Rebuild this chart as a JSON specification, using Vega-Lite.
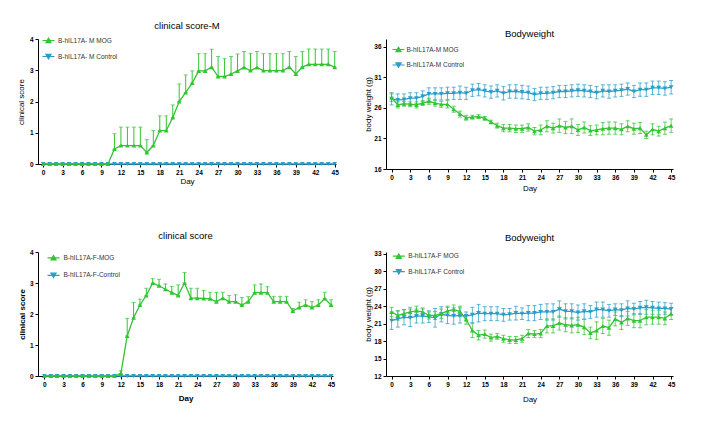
{
  "$schema": "https://vega.github.io/schema/vega-lite/v6.json",
  "padding": {"left": 17, "top": 20, "right": 5, "bottom": 5},
  "config": {
    "font": "Liberation Sans",
    "view": {"stroke": null},
    "title": {"fontSize": 9.5, "fontWeight": "normal", "color": "#000", "anchor": "middle"},
    "axis": {
      "grid": false, "domainColor": "#000", "domainWidth": 1, "tickColor": "#000", "tickSize": 3,
      "labelFontSize": 6.5, "labelFontWeight": "bold", "labelColor": "#000", "labelPadding": 2,
      "titleFontSize": 8, "titleFontWeight": "normal", "titleColor": "#000"
    },
    "legend": {"orient": "none", "padding": 0, "labelFontSize": 6.5, "labelColor": "#333", "symbolSize": 25, "symbolStrokeWidth": 1.2}
  },
  "datasets": {
    "cm": [
      {"d":0,"g":"B-hIL17A- M Control","m":0},{"d":1,"g":"B-hIL17A- M Control","m":0},{"d":2,"g":"B-hIL17A- M Control","m":0},{"d":3,"g":"B-hIL17A- M Control","m":0},
      {"d":4,"g":"B-hIL17A- M Control","m":0},{"d":5,"g":"B-hIL17A- M Control","m":0},{"d":6,"g":"B-hIL17A- M Control","m":0},{"d":7,"g":"B-hIL17A- M Control","m":0},
      {"d":8,"g":"B-hIL17A- M Control","m":0},{"d":9,"g":"B-hIL17A- M Control","m":0},{"d":10,"g":"B-hIL17A- M Control","m":0},{"d":11,"g":"B-hIL17A- M Control","m":0},
      {"d":12,"g":"B-hIL17A- M Control","m":0},{"d":13,"g":"B-hIL17A- M Control","m":0},{"d":14,"g":"B-hIL17A- M Control","m":0},{"d":15,"g":"B-hIL17A- M Control","m":0},
      {"d":16,"g":"B-hIL17A- M Control","m":0},{"d":17,"g":"B-hIL17A- M Control","m":0},{"d":18,"g":"B-hIL17A- M Control","m":0},{"d":19,"g":"B-hIL17A- M Control","m":0},
      {"d":20,"g":"B-hIL17A- M Control","m":0},{"d":21,"g":"B-hIL17A- M Control","m":0},{"d":22,"g":"B-hIL17A- M Control","m":0},{"d":23,"g":"B-hIL17A- M Control","m":0},
      {"d":24,"g":"B-hIL17A- M Control","m":0},{"d":25,"g":"B-hIL17A- M Control","m":0},{"d":26,"g":"B-hIL17A- M Control","m":0},{"d":27,"g":"B-hIL17A- M Control","m":0},
      {"d":28,"g":"B-hIL17A- M Control","m":0},{"d":29,"g":"B-hIL17A- M Control","m":0},{"d":30,"g":"B-hIL17A- M Control","m":0},{"d":31,"g":"B-hIL17A- M Control","m":0},
      {"d":32,"g":"B-hIL17A- M Control","m":0},{"d":33,"g":"B-hIL17A- M Control","m":0},{"d":34,"g":"B-hIL17A- M Control","m":0},{"d":35,"g":"B-hIL17A- M Control","m":0},
      {"d":36,"g":"B-hIL17A- M Control","m":0},{"d":37,"g":"B-hIL17A- M Control","m":0},{"d":38,"g":"B-hIL17A- M Control","m":0},{"d":39,"g":"B-hIL17A- M Control","m":0},
      {"d":40,"g":"B-hIL17A- M Control","m":0},{"d":41,"g":"B-hIL17A- M Control","m":0},{"d":42,"g":"B-hIL17A- M Control","m":0},{"d":43,"g":"B-hIL17A- M Control","m":0},
      {"d":44,"g":"B-hIL17A- M Control","m":0},{"d":45,"g":"B-hIL17A- M Control","m":0},
      {"d":0,"g":"B-hIL17A- M MOG","m":0,"hi":0},{"d":1,"g":"B-hIL17A- M MOG","m":0,"hi":0},{"d":2,"g":"B-hIL17A- M MOG","m":0,"hi":0},{"d":3,"g":"B-hIL17A- M MOG","m":0,"hi":0},
      {"d":4,"g":"B-hIL17A- M MOG","m":0,"hi":0},{"d":5,"g":"B-hIL17A- M MOG","m":0,"hi":0},{"d":6,"g":"B-hIL17A- M MOG","m":0,"hi":0},{"d":7,"g":"B-hIL17A- M MOG","m":0,"hi":0},
      {"d":8,"g":"B-hIL17A- M MOG","m":0,"hi":0},{"d":9,"g":"B-hIL17A- M MOG","m":0,"hi":0},{"d":10,"g":"B-hIL17A- M MOG","m":0,"hi":0},
      {"d":11,"g":"B-hIL17A- M MOG","m":0.48,"hi":0.97},{"d":12,"g":"B-hIL17A- M MOG","m":0.59,"hi":1.18},{"d":13,"g":"B-hIL17A- M MOG","m":0.59,"hi":1.18},
      {"d":14,"g":"B-hIL17A- M MOG","m":0.59,"hi":1.18},{"d":15,"g":"B-hIL17A- M MOG","m":0.59,"hi":1.18},{"d":16,"g":"B-hIL17A- M MOG","m":0.37,"hi":0.78},
      {"d":17,"g":"B-hIL17A- M MOG","m":0.59,"hi":1.07},{"d":18,"g":"B-hIL17A- M MOG","m":1.07,"hi":1.54},{"d":19,"g":"B-hIL17A- M MOG","m":1.07,"hi":1.54},
      {"d":20,"g":"B-hIL17A- M MOG","m":1.49,"hi":1.89},{"d":21,"g":"B-hIL17A- M MOG","m":2.0,"hi":2.56},{"d":22,"g":"B-hIL17A- M MOG","m":2.29,"hi":2.85},
      {"d":23,"g":"B-hIL17A- M MOG","m":2.59,"hi":2.98},{"d":24,"g":"B-hIL17A- M MOG","m":2.98,"hi":3.53},{"d":25,"g":"B-hIL17A- M MOG","m":2.98,"hi":3.53},
      {"d":26,"g":"B-hIL17A- M MOG","m":3.1,"hi":3.67},{"d":27,"g":"B-hIL17A- M MOG","m":2.8,"hi":3.44},{"d":28,"g":"B-hIL17A- M MOG","m":2.8,"hi":3.37},
      {"d":29,"g":"B-hIL17A- M MOG","m":2.88,"hi":3.44},{"d":30,"g":"B-hIL17A- M MOG","m":2.98,"hi":3.52},{"d":31,"g":"B-hIL17A- M MOG","m":3.09,"hi":3.6},
      {"d":32,"g":"B-hIL17A- M MOG","m":2.99,"hi":3.54},{"d":33,"g":"B-hIL17A- M MOG","m":3.09,"hi":3.6},{"d":34,"g":"B-hIL17A- M MOG","m":2.99,"hi":3.53},
      {"d":35,"g":"B-hIL17A- M MOG","m":2.99,"hi":3.53},{"d":36,"g":"B-hIL17A- M MOG","m":2.99,"hi":3.53},{"d":37,"g":"B-hIL17A- M MOG","m":2.99,"hi":3.53},
      {"d":38,"g":"B-hIL17A- M MOG","m":3.1,"hi":3.6},{"d":39,"g":"B-hIL17A- M MOG","m":2.88,"hi":3.44},{"d":40,"g":"B-hIL17A- M MOG","m":3.1,"hi":3.6},
      {"d":41,"g":"B-hIL17A- M MOG","m":3.19,"hi":3.68},{"d":42,"g":"B-hIL17A- M MOG","m":3.19,"hi":3.68},{"d":43,"g":"B-hIL17A- M MOG","m":3.19,"hi":3.68},
      {"d":44,"g":"B-hIL17A- M MOG","m":3.19,"hi":3.68},{"d":45,"g":"B-hIL17A- M MOG","m":3.1,"hi":3.6}
    ],
    "bm": [
      {"d":0,"g":"B-hIL17A-M Control","m":27.5,"lo":26.5,"hi":28.5},{"d":1,"g":"B-hIL17A-M Control","m":27.3,"lo":26.3,"hi":28.3},
      {"d":2,"g":"B-hIL17A-M Control","m":27.4,"lo":26.5,"hi":28.3},{"d":3,"g":"B-hIL17A-M Control","m":27.6,"lo":26.7,"hi":28.5},
      {"d":4,"g":"B-hIL17A-M Control","m":27.6,"lo":26.7,"hi":28.5},{"d":5,"g":"B-hIL17A-M Control","m":27.9,"lo":27.0,"hi":28.8},
      {"d":6,"g":"B-hIL17A-M Control","m":28.3,"lo":27.3,"hi":29.3},{"d":7,"g":"B-hIL17A-M Control","m":28.3,"lo":27.3,"hi":29.3},
      {"d":8,"g":"B-hIL17A-M Control","m":28.3,"lo":27.3,"hi":29.3},{"d":9,"g":"B-hIL17A-M Control","m":28.4,"lo":27.4,"hi":29.4},
      {"d":10,"g":"B-hIL17A-M Control","m":28.4,"lo":27.4,"hi":29.4},{"d":11,"g":"B-hIL17A-M Control","m":28.5,"lo":27.4,"hi":29.6},
      {"d":12,"g":"B-hIL17A-M Control","m":28.4,"lo":27.4,"hi":29.4},{"d":13,"g":"B-hIL17A-M Control","m":28.9,"lo":27.9,"hi":29.9},
      {"d":14,"g":"B-hIL17A-M Control","m":29.0,"lo":28.0,"hi":30.0},{"d":15,"g":"B-hIL17A-M Control","m":28.8,"lo":27.8,"hi":29.8},
      {"d":16,"g":"B-hIL17A-M Control","m":28.6,"lo":27.6,"hi":29.6},{"d":17,"g":"B-hIL17A-M Control","m":28.8,"lo":27.8,"hi":29.8},
      {"d":18,"g":"B-hIL17A-M Control","m":28.4,"lo":27.3,"hi":29.5},{"d":19,"g":"B-hIL17A-M Control","m":28.7,"lo":27.6,"hi":29.8},
      {"d":20,"g":"B-hIL17A-M Control","m":28.7,"lo":27.6,"hi":29.8},{"d":21,"g":"B-hIL17A-M Control","m":28.6,"lo":27.5,"hi":29.7},
      {"d":22,"g":"B-hIL17A-M Control","m":28.5,"lo":27.4,"hi":29.6},{"d":23,"g":"B-hIL17A-M Control","m":28.2,"lo":27.2,"hi":29.2},
      {"d":24,"g":"B-hIL17A-M Control","m":28.4,"lo":27.4,"hi":29.4},{"d":25,"g":"B-hIL17A-M Control","m":28.4,"lo":27.4,"hi":29.4},
      {"d":26,"g":"B-hIL17A-M Control","m":28.5,"lo":27.5,"hi":29.5},{"d":27,"g":"B-hIL17A-M Control","m":28.7,"lo":27.7,"hi":29.7},
      {"d":28,"g":"B-hIL17A-M Control","m":28.7,"lo":27.7,"hi":29.7},{"d":29,"g":"B-hIL17A-M Control","m":28.8,"lo":27.8,"hi":29.8},
      {"d":30,"g":"B-hIL17A-M Control","m":28.9,"lo":27.9,"hi":29.9},{"d":31,"g":"B-hIL17A-M Control","m":28.8,"lo":27.8,"hi":29.8},
      {"d":32,"g":"B-hIL17A-M Control","m":28.7,"lo":27.7,"hi":29.7},{"d":33,"g":"B-hIL17A-M Control","m":28.5,"lo":27.5,"hi":29.5},
      {"d":34,"g":"B-hIL17A-M Control","m":28.8,"lo":27.8,"hi":29.8},{"d":35,"g":"B-hIL17A-M Control","m":28.7,"lo":27.6,"hi":29.8},
      {"d":36,"g":"B-hIL17A-M Control","m":28.8,"lo":27.8,"hi":29.8},{"d":37,"g":"B-hIL17A-M Control","m":28.9,"lo":27.9,"hi":29.9},
      {"d":38,"g":"B-hIL17A-M Control","m":29.1,"lo":28.1,"hi":30.1},{"d":39,"g":"B-hIL17A-M Control","m":28.7,"lo":27.7,"hi":29.7},
      {"d":40,"g":"B-hIL17A-M Control","m":29.0,"lo":27.9,"hi":30.1},{"d":41,"g":"B-hIL17A-M Control","m":29.0,"lo":27.9,"hi":30.1},
      {"d":42,"g":"B-hIL17A-M Control","m":29.3,"lo":28.2,"hi":30.4},{"d":43,"g":"B-hIL17A-M Control","m":29.3,"lo":28.2,"hi":30.4},
      {"d":44,"g":"B-hIL17A-M Control","m":29.2,"lo":28.1,"hi":30.3},{"d":45,"g":"B-hIL17A-M Control","m":29.4,"lo":28.3,"hi":30.5},
      {"d":0,"g":"B-hIL17A-M MOG","m":27.7,"lo":27.1,"hi":28.3},{"d":1,"g":"B-hIL17A-M MOG","m":26.5,"lo":26.0,"hi":27.0},
      {"d":2,"g":"B-hIL17A-M MOG","m":26.7,"lo":26.3,"hi":27.1},{"d":3,"g":"B-hIL17A-M MOG","m":26.6,"lo":26.2,"hi":27.0},
      {"d":4,"g":"B-hIL17A-M MOG","m":26.5,"lo":26.0,"hi":27.0},{"d":5,"g":"B-hIL17A-M MOG","m":26.8,"lo":26.4,"hi":27.2},
      {"d":6,"g":"B-hIL17A-M MOG","m":27.1,"lo":26.6,"hi":27.6},{"d":7,"g":"B-hIL17A-M MOG","m":26.8,"lo":26.3,"hi":27.3},
      {"d":8,"g":"B-hIL17A-M MOG","m":26.6,"lo":26.1,"hi":27.1},{"d":9,"g":"B-hIL17A-M MOG","m":26.6,"lo":26.0,"hi":27.2},
      {"d":10,"g":"B-hIL17A-M MOG","m":25.8,"lo":25.3,"hi":26.3},{"d":11,"g":"B-hIL17A-M MOG","m":25.0,"lo":24.5,"hi":25.5},
      {"d":12,"g":"B-hIL17A-M MOG","m":24.4,"lo":24.0,"hi":24.8},{"d":13,"g":"B-hIL17A-M MOG","m":24.5,"lo":24.2,"hi":24.8},
      {"d":14,"g":"B-hIL17A-M MOG","m":24.6,"lo":24.3,"hi":24.9},{"d":15,"g":"B-hIL17A-M MOG","m":24.3,"lo":24.0,"hi":24.6},
      {"d":16,"g":"B-hIL17A-M MOG","m":23.7,"lo":23.4,"hi":24.0},{"d":17,"g":"B-hIL17A-M MOG","m":23.1,"lo":22.7,"hi":23.5},
      {"d":18,"g":"B-hIL17A-M MOG","m":22.7,"lo":22.1,"hi":23.3},{"d":19,"g":"B-hIL17A-M MOG","m":22.7,"lo":22.1,"hi":23.3},
      {"d":20,"g":"B-hIL17A-M MOG","m":22.6,"lo":22.0,"hi":23.2},{"d":21,"g":"B-hIL17A-M MOG","m":22.6,"lo":22.0,"hi":23.2},
      {"d":22,"g":"B-hIL17A-M MOG","m":22.8,"lo":22.2,"hi":23.4},{"d":23,"g":"B-hIL17A-M MOG","m":22.2,"lo":21.6,"hi":22.8},
      {"d":24,"g":"B-hIL17A-M MOG","m":22.4,"lo":21.6,"hi":23.2},{"d":25,"g":"B-hIL17A-M MOG","m":23.0,"lo":22.1,"hi":23.9},
      {"d":26,"g":"B-hIL17A-M MOG","m":22.7,"lo":21.9,"hi":23.5},{"d":27,"g":"B-hIL17A-M MOG","m":23.1,"lo":22.0,"hi":24.2},
      {"d":28,"g":"B-hIL17A-M MOG","m":22.8,"lo":21.8,"hi":23.8},{"d":29,"g":"B-hIL17A-M MOG","m":23.0,"lo":21.8,"hi":24.2},
      {"d":30,"g":"B-hIL17A-M MOG","m":22.4,"lo":21.5,"hi":23.3},{"d":31,"g":"B-hIL17A-M MOG","m":22.8,"lo":21.9,"hi":23.7},
      {"d":32,"g":"B-hIL17A-M MOG","m":22.3,"lo":21.5,"hi":23.1},{"d":33,"g":"B-hIL17A-M MOG","m":22.4,"lo":21.6,"hi":23.2},
      {"d":34,"g":"B-hIL17A-M MOG","m":22.6,"lo":21.6,"hi":23.6},{"d":35,"g":"B-hIL17A-M MOG","m":22.7,"lo":21.7,"hi":23.7},
      {"d":36,"g":"B-hIL17A-M MOG","m":22.7,"lo":21.7,"hi":23.7},{"d":37,"g":"B-hIL17A-M MOG","m":22.5,"lo":21.6,"hi":23.4},
      {"d":38,"g":"B-hIL17A-M MOG","m":23.0,"lo":22.1,"hi":23.9},{"d":39,"g":"B-hIL17A-M MOG","m":22.6,"lo":21.7,"hi":23.5},
      {"d":40,"g":"B-hIL17A-M MOG","m":22.7,"lo":21.8,"hi":23.6},{"d":41,"g":"B-hIL17A-M MOG","m":21.6,"lo":21.0,"hi":22.2},
      {"d":42,"g":"B-hIL17A-M MOG","m":22.5,"lo":21.6,"hi":23.4},{"d":43,"g":"B-hIL17A-M MOG","m":22.2,"lo":21.4,"hi":23.0},
      {"d":44,"g":"B-hIL17A-M MOG","m":22.7,"lo":21.7,"hi":23.7},{"d":45,"g":"B-hIL17A-M MOG","m":23.1,"lo":22.0,"hi":24.2}
    ],
    "cf": [
      {"d":0,"g":"B-hIL17A-F-Control","m":0},{"d":1,"g":"B-hIL17A-F-Control","m":0},{"d":2,"g":"B-hIL17A-F-Control","m":0},{"d":3,"g":"B-hIL17A-F-Control","m":0},
      {"d":4,"g":"B-hIL17A-F-Control","m":0},{"d":5,"g":"B-hIL17A-F-Control","m":0},{"d":6,"g":"B-hIL17A-F-Control","m":0},{"d":7,"g":"B-hIL17A-F-Control","m":0},
      {"d":8,"g":"B-hIL17A-F-Control","m":0},{"d":9,"g":"B-hIL17A-F-Control","m":0},{"d":10,"g":"B-hIL17A-F-Control","m":0},{"d":11,"g":"B-hIL17A-F-Control","m":0},
      {"d":12,"g":"B-hIL17A-F-Control","m":0},{"d":13,"g":"B-hIL17A-F-Control","m":0},{"d":14,"g":"B-hIL17A-F-Control","m":0},{"d":15,"g":"B-hIL17A-F-Control","m":0},
      {"d":16,"g":"B-hIL17A-F-Control","m":0},{"d":17,"g":"B-hIL17A-F-Control","m":0},{"d":18,"g":"B-hIL17A-F-Control","m":0},{"d":19,"g":"B-hIL17A-F-Control","m":0},
      {"d":20,"g":"B-hIL17A-F-Control","m":0},{"d":21,"g":"B-hIL17A-F-Control","m":0},{"d":22,"g":"B-hIL17A-F-Control","m":0},{"d":23,"g":"B-hIL17A-F-Control","m":0},
      {"d":24,"g":"B-hIL17A-F-Control","m":0},{"d":25,"g":"B-hIL17A-F-Control","m":0},{"d":26,"g":"B-hIL17A-F-Control","m":0},{"d":27,"g":"B-hIL17A-F-Control","m":0},
      {"d":28,"g":"B-hIL17A-F-Control","m":0},{"d":29,"g":"B-hIL17A-F-Control","m":0},{"d":30,"g":"B-hIL17A-F-Control","m":0},{"d":31,"g":"B-hIL17A-F-Control","m":0},
      {"d":32,"g":"B-hIL17A-F-Control","m":0},{"d":33,"g":"B-hIL17A-F-Control","m":0},{"d":34,"g":"B-hIL17A-F-Control","m":0},{"d":35,"g":"B-hIL17A-F-Control","m":0},
      {"d":36,"g":"B-hIL17A-F-Control","m":0},{"d":37,"g":"B-hIL17A-F-Control","m":0},{"d":38,"g":"B-hIL17A-F-Control","m":0},{"d":39,"g":"B-hIL17A-F-Control","m":0},
      {"d":40,"g":"B-hIL17A-F-Control","m":0},{"d":41,"g":"B-hIL17A-F-Control","m":0},{"d":42,"g":"B-hIL17A-F-Control","m":0},{"d":43,"g":"B-hIL17A-F-Control","m":0},
      {"d":44,"g":"B-hIL17A-F-Control","m":0},{"d":45,"g":"B-hIL17A-F-Control","m":0},
      {"d":0,"g":"B-hIL17A-F-MOG","m":0,"hi":0},{"d":1,"g":"B-hIL17A-F-MOG","m":0,"hi":0},{"d":2,"g":"B-hIL17A-F-MOG","m":0,"hi":0},{"d":3,"g":"B-hIL17A-F-MOG","m":0,"hi":0},
      {"d":4,"g":"B-hIL17A-F-MOG","m":0,"hi":0},{"d":5,"g":"B-hIL17A-F-MOG","m":0,"hi":0},{"d":6,"g":"B-hIL17A-F-MOG","m":0,"hi":0},{"d":7,"g":"B-hIL17A-F-MOG","m":0,"hi":0},
      {"d":8,"g":"B-hIL17A-F-MOG","m":0,"hi":0},{"d":9,"g":"B-hIL17A-F-MOG","m":0,"hi":0},{"d":10,"g":"B-hIL17A-F-MOG","m":0,"hi":0},{"d":11,"g":"B-hIL17A-F-MOG","m":0,"hi":0},
      {"d":12,"g":"B-hIL17A-F-MOG","m":0.08,"hi":0.17},{"d":13,"g":"B-hIL17A-F-MOG","m":1.29,"hi":1.86},{"d":14,"g":"B-hIL17A-F-MOG","m":1.88,"hi":2.37},
      {"d":15,"g":"B-hIL17A-F-MOG","m":2.29,"hi":2.48},{"d":16,"g":"B-hIL17A-F-MOG","m":2.6,"hi":2.83},{"d":17,"g":"B-hIL17A-F-MOG","m":3.0,"hi":3.14},
      {"d":18,"g":"B-hIL17A-F-MOG","m":2.91,"hi":3.12},{"d":19,"g":"B-hIL17A-F-MOG","m":2.8,"hi":2.97},{"d":20,"g":"B-hIL17A-F-MOG","m":2.69,"hi":2.89},
      {"d":21,"g":"B-hIL17A-F-MOG","m":2.6,"hi":2.94},{"d":22,"g":"B-hIL17A-F-MOG","m":3.0,"hi":3.34},{"d":23,"g":"B-hIL17A-F-MOG","m":2.51,"hi":2.83},
      {"d":24,"g":"B-hIL17A-F-MOG","m":2.51,"hi":2.83},{"d":25,"g":"B-hIL17A-F-MOG","m":2.5,"hi":2.76},{"d":26,"g":"B-hIL17A-F-MOG","m":2.49,"hi":2.7},
      {"d":27,"g":"B-hIL17A-F-MOG","m":2.4,"hi":2.7},{"d":28,"g":"B-hIL17A-F-MOG","m":2.51,"hi":2.7},{"d":29,"g":"B-hIL17A-F-MOG","m":2.4,"hi":2.6},
      {"d":30,"g":"B-hIL17A-F-MOG","m":2.4,"hi":2.62},{"d":31,"g":"B-hIL17A-F-MOG","m":2.29,"hi":2.53},{"d":32,"g":"B-hIL17A-F-MOG","m":2.4,"hi":2.56},
      {"d":33,"g":"B-hIL17A-F-MOG","m":2.69,"hi":2.94},{"d":34,"g":"B-hIL17A-F-MOG","m":2.69,"hi":2.97},{"d":35,"g":"B-hIL17A-F-MOG","m":2.69,"hi":2.88},
      {"d":36,"g":"B-hIL17A-F-MOG","m":2.4,"hi":2.57},{"d":37,"g":"B-hIL17A-F-MOG","m":2.4,"hi":2.57},{"d":38,"g":"B-hIL17A-F-MOG","m":2.4,"hi":2.57},
      {"d":39,"g":"B-hIL17A-F-MOG","m":2.1,"hi":2.18},{"d":40,"g":"B-hIL17A-F-MOG","m":2.21,"hi":2.38},{"d":41,"g":"B-hIL17A-F-MOG","m":2.29,"hi":2.46},
      {"d":42,"g":"B-hIL17A-F-MOG","m":2.21,"hi":2.4},{"d":43,"g":"B-hIL17A-F-MOG","m":2.29,"hi":2.46},{"d":44,"g":"B-hIL17A-F-MOG","m":2.5,"hi":2.7},
      {"d":45,"g":"B-hIL17A-F-MOG","m":2.29,"hi":2.46}
    ],
    "bf": [
      {"d":0,"g":"B-hIL17A-F Control","m":21.5,"lo":20.0,"hi":23.0},{"d":1,"g":"B-hIL17A-F Control","m":21.8,"lo":20.4,"hi":23.2},
      {"d":2,"g":"B-hIL17A-F Control","m":22.1,"lo":20.8,"hi":23.4},{"d":3,"g":"B-hIL17A-F Control","m":22.0,"lo":20.5,"hi":23.5},
      {"d":4,"g":"B-hIL17A-F Control","m":22.3,"lo":21.1,"hi":23.5},{"d":5,"g":"B-hIL17A-F Control","m":22.3,"lo":21.1,"hi":23.5},
      {"d":6,"g":"B-hIL17A-F Control","m":22.2,"lo":21.2,"hi":23.2},{"d":7,"g":"B-hIL17A-F Control","m":22.0,"lo":20.4,"hi":23.6},
      {"d":8,"g":"B-hIL17A-F Control","m":22.6,"lo":21.3,"hi":23.9},{"d":9,"g":"B-hIL17A-F Control","m":22.4,"lo":21.0,"hi":23.8},
      {"d":10,"g":"B-hIL17A-F Control","m":22.3,"lo":20.9,"hi":23.7},{"d":11,"g":"B-hIL17A-F Control","m":22.4,"lo":21.1,"hi":23.7},
      {"d":12,"g":"B-hIL17A-F Control","m":22.3,"lo":21.6,"hi":23.0},{"d":13,"g":"B-hIL17A-F Control","m":22.5,"lo":21.2,"hi":23.8},
      {"d":14,"g":"B-hIL17A-F Control","m":22.8,"lo":21.3,"hi":24.3},{"d":15,"g":"B-hIL17A-F Control","m":22.7,"lo":21.5,"hi":23.9},
      {"d":16,"g":"B-hIL17A-F Control","m":22.7,"lo":21.5,"hi":23.9},{"d":17,"g":"B-hIL17A-F Control","m":22.7,"lo":21.5,"hi":23.9},
      {"d":18,"g":"B-hIL17A-F Control","m":22.5,"lo":21.4,"hi":23.6},{"d":19,"g":"B-hIL17A-F Control","m":22.6,"lo":21.6,"hi":23.6},
      {"d":20,"g":"B-hIL17A-F Control","m":22.8,"lo":21.6,"hi":24.0},{"d":21,"g":"B-hIL17A-F Control","m":22.7,"lo":21.7,"hi":23.7},
      {"d":22,"g":"B-hIL17A-F Control","m":22.8,"lo":21.5,"hi":24.1},{"d":23,"g":"B-hIL17A-F Control","m":22.8,"lo":21.5,"hi":24.1},
      {"d":24,"g":"B-hIL17A-F Control","m":23.0,"lo":21.7,"hi":24.3},{"d":25,"g":"B-hIL17A-F Control","m":23.0,"lo":21.6,"hi":24.4},
      {"d":26,"g":"B-hIL17A-F Control","m":23.0,"lo":21.6,"hi":24.4},{"d":27,"g":"B-hIL17A-F Control","m":23.5,"lo":22.1,"hi":24.9},
      {"d":28,"g":"B-hIL17A-F Control","m":23.1,"lo":21.8,"hi":24.4},{"d":29,"g":"B-hIL17A-F Control","m":23.1,"lo":21.8,"hi":24.4},
      {"d":30,"g":"B-hIL17A-F Control","m":22.9,"lo":21.6,"hi":24.2},{"d":31,"g":"B-hIL17A-F Control","m":23.1,"lo":21.8,"hi":24.4},
      {"d":32,"g":"B-hIL17A-F Control","m":23.0,"lo":21.9,"hi":24.1},{"d":33,"g":"B-hIL17A-F Control","m":23.4,"lo":22.1,"hi":24.7},
      {"d":34,"g":"B-hIL17A-F Control","m":23.4,"lo":22.1,"hi":24.7},{"d":35,"g":"B-hIL17A-F Control","m":23.2,"lo":22.1,"hi":24.3},
      {"d":36,"g":"B-hIL17A-F Control","m":23.4,"lo":22.4,"hi":24.4},{"d":37,"g":"B-hIL17A-F Control","m":23.3,"lo":22.2,"hi":24.4},
      {"d":38,"g":"B-hIL17A-F Control","m":23.6,"lo":22.3,"hi":24.9},{"d":39,"g":"B-hIL17A-F Control","m":23.5,"lo":22.5,"hi":24.5},
      {"d":40,"g":"B-hIL17A-F Control","m":23.7,"lo":22.6,"hi":24.8},{"d":41,"g":"B-hIL17A-F Control","m":23.8,"lo":22.6,"hi":25.0},
      {"d":42,"g":"B-hIL17A-F Control","m":23.7,"lo":22.6,"hi":24.8},{"d":43,"g":"B-hIL17A-F Control","m":23.6,"lo":22.5,"hi":24.7},
      {"d":44,"g":"B-hIL17A-F Control","m":23.6,"lo":22.6,"hi":24.6},{"d":45,"g":"B-hIL17A-F Control","m":23.5,"lo":22.5,"hi":24.5},
      {"d":0,"g":"B-hIL17A-F MOG","m":23.0,"lo":22.2,"hi":23.8},{"d":1,"g":"B-hIL17A-F MOG","m":22.4,"lo":21.6,"hi":23.2},
      {"d":2,"g":"B-hIL17A-F MOG","m":22.7,"lo":22.0,"hi":23.4},{"d":3,"g":"B-hIL17A-F MOG","m":23.0,"lo":22.2,"hi":23.8},
      {"d":4,"g":"B-hIL17A-F MOG","m":23.2,"lo":22.4,"hi":24.0},{"d":5,"g":"B-hIL17A-F MOG","m":23.0,"lo":22.3,"hi":23.7},
      {"d":6,"g":"B-hIL17A-F MOG","m":22.4,"lo":21.8,"hi":23.0},{"d":7,"g":"B-hIL17A-F MOG","m":22.4,"lo":21.7,"hi":23.1},
      {"d":8,"g":"B-hIL17A-F MOG","m":22.7,"lo":21.9,"hi":23.5},{"d":9,"g":"B-hIL17A-F MOG","m":23.2,"lo":22.4,"hi":24.0},
      {"d":10,"g":"B-hIL17A-F MOG","m":23.4,"lo":22.6,"hi":24.2},{"d":11,"g":"B-hIL17A-F MOG","m":23.1,"lo":22.2,"hi":24.0},
      {"d":12,"g":"B-hIL17A-F MOG","m":21.7,"lo":20.9,"hi":22.5},{"d":13,"g":"B-hIL17A-F MOG","m":19.8,"lo":18.6,"hi":21.0},
      {"d":14,"g":"B-hIL17A-F MOG","m":19.0,"lo":18.2,"hi":19.8},{"d":15,"g":"B-hIL17A-F MOG","m":19.2,"lo":18.5,"hi":19.9},
      {"d":16,"g":"B-hIL17A-F MOG","m":18.6,"lo":18.0,"hi":19.2},{"d":17,"g":"B-hIL17A-F MOG","m":18.8,"lo":18.3,"hi":19.3},
      {"d":18,"g":"B-hIL17A-F MOG","m":18.4,"lo":17.8,"hi":19.0},{"d":19,"g":"B-hIL17A-F MOG","m":18.2,"lo":17.6,"hi":18.8},
      {"d":20,"g":"B-hIL17A-F MOG","m":18.2,"lo":17.6,"hi":18.8},{"d":21,"g":"B-hIL17A-F MOG","m":18.4,"lo":17.8,"hi":19.0},
      {"d":22,"g":"B-hIL17A-F MOG","m":19.3,"lo":18.6,"hi":20.0},{"d":23,"g":"B-hIL17A-F MOG","m":19.2,"lo":18.6,"hi":19.8},
      {"d":24,"g":"B-hIL17A-F MOG","m":19.3,"lo":18.6,"hi":20.0},{"d":25,"g":"B-hIL17A-F MOG","m":20.6,"lo":19.4,"hi":21.8},
      {"d":26,"g":"B-hIL17A-F MOG","m":20.6,"lo":19.4,"hi":21.8},{"d":27,"g":"B-hIL17A-F MOG","m":21.1,"lo":19.9,"hi":22.3},
      {"d":28,"g":"B-hIL17A-F MOG","m":20.8,"lo":19.6,"hi":22.0},{"d":29,"g":"B-hIL17A-F MOG","m":20.7,"lo":19.4,"hi":22.0},
      {"d":30,"g":"B-hIL17A-F MOG","m":20.8,"lo":19.5,"hi":22.1},{"d":31,"g":"B-hIL17A-F MOG","m":20.4,"lo":19.1,"hi":21.7},
      {"d":32,"g":"B-hIL17A-F MOG","m":19.4,"lo":18.4,"hi":20.4},{"d":33,"g":"B-hIL17A-F MOG","m":19.8,"lo":18.3,"hi":21.3},
      {"d":34,"g":"B-hIL17A-F MOG","m":20.6,"lo":19.3,"hi":21.9},{"d":35,"g":"B-hIL17A-F MOG","m":20.3,"lo":19.0,"hi":21.6},
      {"d":36,"g":"B-hIL17A-F MOG","m":21.8,"lo":20.6,"hi":23.0},{"d":37,"g":"B-hIL17A-F MOG","m":21.2,"lo":20.0,"hi":22.4},
      {"d":38,"g":"B-hIL17A-F MOG","m":21.9,"lo":20.7,"hi":23.1},{"d":39,"g":"B-hIL17A-F MOG","m":21.5,"lo":20.3,"hi":22.7},
      {"d":40,"g":"B-hIL17A-F MOG","m":21.5,"lo":20.3,"hi":22.7},{"d":41,"g":"B-hIL17A-F MOG","m":22.1,"lo":20.8,"hi":23.4},
      {"d":42,"g":"B-hIL17A-F MOG","m":22.1,"lo":20.9,"hi":23.3},{"d":43,"g":"B-hIL17A-F MOG","m":22.1,"lo":20.9,"hi":23.3},
      {"d":44,"g":"B-hIL17A-F MOG","m":21.9,"lo":20.8,"hi":23.0},{"d":45,"g":"B-hIL17A-F MOG","m":22.7,"lo":21.7,"hi":23.7}
    ]
  },
  "columns": 2,
  "align": "each",
  "bounds": "flush",
  "spacing": {"column": 50, "row": 83},
  "resolve": {"scale": {"color": "independent"}, "legend": {"color": "independent"}},
  "concat": [
    {
      "width": 298, "height": 125,
      "data": {"name": "cm"},
      "title": {"text": "clinical score-M", "offset": 6},
      "encoding": {
        "x": {"field": "d", "type": "quantitative", "scale": {"domain": [-0.8, 45.2], "nice": false, "zero": false},
              "axis": {"values": [0,3,6,9,12,15,18,21,24,27,30,33,36,39,42,45], "title": "Day", "titlePadding": 2}},
        "y": {"field": "m", "type": "quantitative", "scale": {"domain": [0, 4], "nice": false},
              "axis": {"values": [0,1,2,3,4], "title": "clinical score", "titlePadding": 4}},
        "color": {"field": "g", "type": "nominal",
                  "scale": {"domain": ["B-hIL17A- M MOG", "B-hIL17A- M Control"], "range": ["#33c433", "#2a9ec8"]},
                  "legend": {"title": null, "legendX": 7, "legendY": -2, "labelOffset": 6, "rowPadding": 5,
                             "encode": {"symbols": {"update": {
                               "shape": {"signal": "datum.index == 0 ? 'M-2.4,0H2.4M-1,0.85L0,-0.9L1,0.85Z' : 'M-2.4,0H2.4M-1,-0.85L0,0.9L1,-0.85Z'"},
                               "fill": {"signal": "datum.index == 0 ? '#33c433' : '#2a9ec8'"},
                               "stroke": {"signal": "datum.index == 0 ? '#33c433' : '#2a9ec8'"},
                               "strokeWidth": {"value": 1.2}, "opacity": {"value": 1}}}}}}
      },
      "layer": [
        {"transform": [{"filter": "isValid(datum.hi) && datum.hi > datum.m"}],
         "mark": {"type": "errorbar", "ticks": {"size": 4}, "thickness": 1},
         "encoding": {"y2": {"field": "hi"}}},
        {"transform": [{"filter": {"field": "g", "equal": "B-hIL17A- M Control"}}], "mark": {"type": "line", "strokeWidth": 1.3}},
        {"transform": [{"filter": {"field": "g", "equal": "B-hIL17A- M Control"}}], "mark": {"type": "point", "filled": true, "size": 22, "opacity": 1, "shape": "triangle-down"}},
        {"transform": [{"filter": {"field": "g", "equal": "B-hIL17A- M MOG"}}], "mark": {"type": "line", "strokeWidth": 1.3}},
        {"transform": [{"filter": {"field": "g", "equal": "B-hIL17A- M MOG"}}], "mark": {"type": "point", "filled": true, "size": 22, "opacity": 1, "shape": "triangle-up"}}
      ]
    },
    {
      "width": 287, "height": 130,
      "data": {"name": "bm"},
      "title": {"text": "Bodyweight", "offset": 1},
      "encoding": {
        "x": {"field": "d", "type": "quantitative", "scale": {"domain": [-0.9, 45.3], "nice": false, "zero": false},
              "axis": {"values": [0,3,6,9,12,15,18,21,24,27,30,33,36,39,42,45], "title": "Day", "titlePadding": 4}},
        "y": {"field": "m", "type": "quantitative", "scale": {"domain": [16, 37.3], "nice": false, "zero": false},
              "axis": {"values": [16,21,26,31,36], "title": "body weight (g)", "titlePadding": 1}},
        "color": {"field": "g", "type": "nominal",
                  "scale": {"domain": ["B-hIL17A-M MOG", "B-hIL17A-M Control"], "range": ["#33c433", "#2a9ec8"]},
                  "legend": {"title": null, "legendX": 9, "legendY": 7, "labelOffset": 4.5, "rowPadding": 4.5,
                             "encode": {"symbols": {"update": {
                               "shape": {"signal": "datum.index == 0 ? 'M-2.4,0H2.4M-1,0.85L0,-0.9L1,0.85Z' : 'M-2.4,0H2.4M-1,-0.85L0,0.9L1,-0.85Z'"},
                               "fill": {"signal": "datum.index == 0 ? '#33c433' : '#2a9ec8'"},
                               "stroke": {"signal": "datum.index == 0 ? '#33c433' : '#2a9ec8'"},
                               "strokeWidth": {"value": 1.2}, "opacity": {"value": 1}}}}}}
      },
      "layer": [
        {"mark": {"type": "errorbar", "ticks": {"size": 4}, "thickness": 1, "opacity": 0.75},
         "encoding": {"y": {"field": "lo", "type": "quantitative"}, "y2": {"field": "hi"}}},
        {"transform": [{"filter": {"field": "g", "equal": "B-hIL17A-M Control"}}], "mark": {"type": "line", "strokeWidth": 1.3}},
        {"transform": [{"filter": {"field": "g", "equal": "B-hIL17A-M Control"}}], "mark": {"type": "point", "filled": true, "size": 22, "opacity": 1, "shape": "triangle-down"}},
        {"transform": [{"filter": {"field": "g", "equal": "B-hIL17A-M MOG"}}], "mark": {"type": "line", "strokeWidth": 1.3}},
        {"transform": [{"filter": {"field": "g", "equal": "B-hIL17A-M MOG"}}], "mark": {"type": "point", "filled": true, "size": 22, "opacity": 1, "shape": "triangle-up"}}
      ]
    },
    {
      "width": 295, "height": 124,
      "data": {"name": "cf"},
      "title": {"text": "clinical score", "offset": 9},
      "encoding": {
        "x": {"field": "d", "type": "quantitative", "scale": {"domain": [-1.0, 45.3], "nice": false, "zero": false},
              "axis": {"values": [0,3,6,9,12,15,18,21,24,27,30,33,36,39,42,45], "title": "Day", "titlePadding": 7, "titleFontWeight": "bold"}},
        "y": {"field": "m", "type": "quantitative", "scale": {"domain": [0, 4], "nice": false},
              "axis": {"values": [0,1,2,3,4], "title": "clinical score", "titlePadding": 3, "titleFontWeight": "bold"}},
        "color": {"field": "g", "type": "nominal",
                  "scale": {"domain": ["B-hIL17A-F-MOG", "B-hIL17A-F-Control"], "range": ["#33c433", "#2a9ec8"]},
                  "legend": {"title": null, "legendX": 12, "legendY": 2.3, "labelOffset": 6.5, "rowPadding": 6.5,
                             "encode": {"symbols": {"update": {
                               "shape": {"signal": "datum.index == 0 ? 'M-2.4,0H2.4M-1,0.85L0,-0.9L1,0.85Z' : 'M-2.4,0H2.4M-1,-0.85L0,0.9L1,-0.85Z'"},
                               "fill": {"signal": "datum.index == 0 ? '#33c433' : '#2a9ec8'"},
                               "stroke": {"signal": "datum.index == 0 ? '#33c433' : '#2a9ec8'"},
                               "strokeWidth": {"value": 1.2}, "opacity": {"value": 1}}}}}}
      },
      "layer": [
        {"transform": [{"filter": "isValid(datum.hi) && datum.hi > datum.m"}],
         "mark": {"type": "errorbar", "ticks": {"size": 4}, "thickness": 1},
         "encoding": {"y2": {"field": "hi"}}},
        {"transform": [{"filter": {"field": "g", "equal": "B-hIL17A-F-Control"}}], "mark": {"type": "line", "strokeWidth": 1.3}},
        {"transform": [{"filter": {"field": "g", "equal": "B-hIL17A-F-Control"}}], "mark": {"type": "point", "filled": true, "size": 22, "opacity": 1, "shape": "triangle-down"}},
        {"transform": [{"filter": {"field": "g", "equal": "B-hIL17A-F-MOG"}}], "mark": {"type": "line", "strokeWidth": 1.3}},
        {"transform": [{"filter": {"field": "g", "equal": "B-hIL17A-F-MOG"}}], "mark": {"type": "point", "filled": true, "size": 22, "opacity": 1, "shape": "triangle-up"}}
      ]
    },
    {
      "width": 287, "height": 124,
      "data": {"name": "bf"},
      "title": {"text": "Bodyweight", "offset": 8},
      "encoding": {
        "x": {"field": "d", "type": "quantitative", "scale": {"domain": [-0.9, 45.3], "nice": false, "zero": false},
              "axis": {"values": [0,3,6,9,12,15,18,21,24,27,30,33,36,39,42,45], "title": "Day", "titlePadding": 8}},
        "y": {"field": "m", "type": "quantitative", "scale": {"domain": [12, 33.3], "nice": false, "zero": false},
              "axis": {"values": [12,15,18,21,24,27,30,33], "title": "body weight (g)", "titlePadding": 1}},
        "color": {"field": "g", "type": "nominal",
                  "scale": {"domain": ["B-hIL17A-F MOG", "B-hIL17A-F Control"], "range": ["#33c433", "#2a9ec8"]},
                  "legend": {"title": null, "legendX": 9.3, "legendY": 0.7, "labelOffset": 6, "rowPadding": 4.5,
                             "encode": {"symbols": {"update": {
                               "shape": {"signal": "datum.index == 0 ? 'M-2.4,0H2.4M-1,0.85L0,-0.9L1,0.85Z' : 'M-2.4,0H2.4M-1,-0.85L0,0.9L1,-0.85Z'"},
                               "fill": {"signal": "datum.index == 0 ? '#33c433' : '#2a9ec8'"},
                               "stroke": {"signal": "datum.index == 0 ? '#33c433' : '#2a9ec8'"},
                               "strokeWidth": {"value": 1.2}, "opacity": {"value": 1}}}}}}
      },
      "layer": [
        {"mark": {"type": "errorbar", "ticks": {"size": 4}, "thickness": 1, "opacity": 0.75},
         "encoding": {"y": {"field": "lo", "type": "quantitative"}, "y2": {"field": "hi"}}},
        {"transform": [{"filter": {"field": "g", "equal": "B-hIL17A-F Control"}}], "mark": {"type": "line", "strokeWidth": 1.3}},
        {"transform": [{"filter": {"field": "g", "equal": "B-hIL17A-F Control"}}], "mark": {"type": "point", "filled": true, "size": 22, "opacity": 1, "shape": "triangle-down"}},
        {"transform": [{"filter": {"field": "g", "equal": "B-hIL17A-F MOG"}}], "mark": {"type": "line", "strokeWidth": 1.3}},
        {"transform": [{"filter": {"field": "g", "equal": "B-hIL17A-F MOG"}}], "mark": {"type": "point", "filled": true, "size": 22, "opacity": 1, "shape": "triangle-up"}}
      ]
    }
  ]
}
